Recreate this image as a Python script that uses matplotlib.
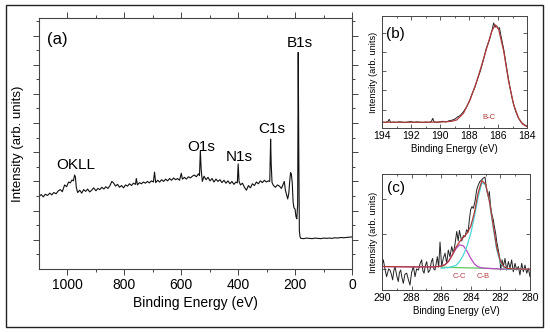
import numpy as np
import matplotlib
matplotlib.use('Agg')
import matplotlib.pyplot as plt
from matplotlib.patches import Rectangle

plt.rcParams['font.family'] = ['Liberation Sans', 'DejaVu Sans']

# (a) survey spectrum
survey_e = [1100, 1092, 1085, 1078, 1070, 1062, 1055, 1048, 1040, 1032,
            1025, 1018, 1010, 1003, 996, 990, 984, 979, 975, 972,
            969, 964, 957, 950, 943, 936, 929, 922, 915, 908,
            900, 893, 886, 879, 872, 865, 858, 851, 844, 838,
            831, 824, 817, 810, 803, 796, 789, 782, 775, 768,
            761, 758, 754, 747, 740, 733, 726, 719, 712, 705,
            698, 694, 690, 683, 676, 669, 662, 655, 648, 641,
            634, 627, 620, 613, 606, 600, 596, 589, 582, 575,
            568, 561, 554, 547, 540, 536, 533, 530, 526, 520,
            513, 506, 499, 492, 485, 478, 471, 464, 457, 450,
            443, 436, 429, 422, 415, 408, 403, 400, 397, 392,
            385, 378, 371, 364, 357, 350, 343, 336, 329, 322,
            315, 308, 301, 294, 289, 286, 284, 281, 276, 269,
            262, 255, 248, 242, 238, 234, 230, 226, 222, 219,
            216, 213, 210, 207, 204, 200, 197, 194, 191, 189,
            187, 185, 183, 180, 170, 160, 150, 140, 130, 120,
            110, 100, 90, 80, 70, 60, 50, 40, 30, 20,
            10, 0]
survey_i = [2.49, 2.55, 2.47, 2.56, 2.52, 2.60, 2.54, 2.62, 2.58, 2.68,
            2.72, 2.65, 2.88, 2.82, 2.98, 2.95, 3.05, 3.02, 3.22, 3.15,
            2.80, 2.62, 2.70, 2.60, 2.72, 2.66, 2.74, 2.64, 2.70, 2.78,
            2.68, 2.76, 2.72, 2.80, 2.74, 2.82, 2.76, 2.85, 3.00, 2.95,
            2.84, 2.90, 2.80, 2.86, 2.78, 2.88, 2.84, 2.92, 2.86, 2.94,
            2.90, 3.10, 2.88, 2.96, 2.92, 2.98, 2.94, 3.00, 2.95, 3.02,
            2.98, 3.32, 2.96, 3.04, 2.98, 3.06, 3.00, 3.08, 3.02, 3.10,
            3.04, 3.12, 3.06, 3.10, 3.04, 3.28, 3.08, 3.14, 3.08, 3.16,
            3.12, 3.18, 3.22, 3.16, 3.26, 3.20, 4.05, 3.40, 3.00, 3.18,
            3.06, 3.14, 3.02, 3.10, 2.98, 3.08, 3.00, 3.06, 2.96, 3.04,
            2.94, 3.02, 2.92, 3.00, 2.90, 2.98, 2.95, 3.60, 3.00, 2.88,
            2.94, 2.80, 2.70, 2.86, 2.78, 2.92, 2.86, 2.98, 2.92, 3.02,
            2.96, 3.04, 2.98, 3.02, 3.00, 4.45, 3.60, 2.96, 2.86, 2.80,
            2.88, 2.84, 2.76, 2.90, 3.00, 2.70, 2.55, 2.40, 2.60, 3.00,
            3.30, 3.25, 2.95, 2.30, 2.10, 2.05, 1.80, 1.72, 2.20, 7.42,
            4.00, 1.30, 1.12, 1.05, 1.04, 1.06, 1.05, 1.04, 1.06, 1.05,
            1.04, 1.06, 1.05, 1.06, 1.05, 1.07, 1.06, 1.08, 1.07, 1.08,
            1.09, 1.10]
survey_labels = ['OKLL', 'O1s', 'N1s', 'C1s', 'B1s']
survey_label_e = [972, 531, 397, 281, 183]
survey_label_i = [3.56, 4.18, 3.83, 4.79, 7.74]

# (b) B1s high resolution
b1s_e = [194.0, 193.8, 193.6, 193.5, 193.4, 193.2, 193.0, 192.8, 192.6, 192.4,
         192.2, 192.0, 191.8, 191.6, 191.4, 191.2, 191.0, 190.8, 190.6, 190.5,
         190.4, 190.2, 190.0, 189.8, 189.6, 189.4, 189.2, 189.0, 188.8, 188.6,
         188.4, 188.2, 188.0, 187.8, 187.6, 187.4, 187.2, 187.0, 186.8, 186.6,
         186.4, 186.3, 186.2, 186.1, 186.0, 185.9, 185.8, 185.6, 185.4, 185.2,
         185.0, 184.8, 184.6, 184.4, 184.2, 184.0]
b1s_i = [0.36, 0.33, 0.38, 0.50, 0.33, 0.36, 0.34, 0.37, 0.35, 0.33,
         0.36, 0.38, 0.34, 0.37, 0.35, 0.33, 0.36, 0.34, 0.38, 0.55,
         0.36, 0.34, 0.37, 0.40, 0.36, 0.42, 0.45, 0.50, 0.62, 0.70,
         0.88, 1.10, 1.40, 1.80, 2.15, 2.62, 3.05, 3.60, 4.20, 4.60,
         5.15, 5.50, 5.28, 5.35, 5.22, 5.25, 4.85, 4.10, 3.15, 2.25,
         1.50, 0.95, 0.58, 0.35, 0.22, 0.15]
b1s_fit_e = [194.0, 193.0, 192.0, 191.0, 190.0, 189.5, 189.18, 188.84, 188.38, 187.92,
             187.46, 187.11, 186.77, 186.42, 186.19, 185.96, 185.61, 185.27, 184.92, 184.58,
             184.3, 184.0]
b1s_fit_i = [0.35, 0.35, 0.35, 0.35, 0.36, 0.38, 0.40, 0.47, 0.82, 1.52,
             2.48, 3.35, 4.22, 5.09, 5.40, 5.18, 4.05, 2.48, 1.26, 0.56,
             0.25, 0.12]

# (c) C1s high resolution
c1s_e = [290.0, 289.91, 289.8, 289.69, 289.55, 289.46, 289.37, 289.28, 289.2, 289.12,
         289.0, 288.9, 288.82, 288.74, 288.65, 288.56, 288.45, 288.33, 288.22, 288.11,
         288.0, 287.88, 287.77, 287.66, 287.54, 287.43, 287.32, 287.24, 287.16, 287.07,
         286.98, 286.87, 286.76, 286.67, 286.58, 286.5, 286.42, 286.34, 286.26, 286.17,
         286.08, 285.97, 285.86, 285.74, 285.63, 285.52, 285.41, 285.29, 285.18, 285.07,
         284.95, 284.85, 284.77, 284.62, 284.5, 284.39, 284.28, 284.18, 284.1, 284.01,
         283.92, 283.83, 283.72, 283.6, 283.49, 283.38, 283.27, 283.16, 283.04, 282.93,
         282.82, 282.75, 282.66, 282.57, 282.48, 282.41, 282.32, 282.25, 282.14, 282.03,
         281.98, 281.89, 281.8, 281.69, 281.58, 281.46, 281.35, 281.24, 281.13, 281.01,
         280.9, 280.79, 280.68, 280.56, 280.45, 280.34, 280.22, 280.11, 280.0]
c1s_i = [1.10, 1.26, 1.00, 0.78, 1.00, 0.97, 0.85, 0.69, 0.95, 1.07,
         0.80, 0.64, 0.90, 0.97, 0.75, 0.59, 0.85, 0.88, 0.70, 0.54,
         0.90, 1.07, 0.78, 1.00, 0.97, 1.15, 1.26, 0.95, 0.88, 1.10,
         1.21, 0.90, 0.97, 1.20, 1.30, 1.00, 0.97, 1.15, 1.35, 1.05,
         1.77, 1.07, 1.30, 1.45, 1.16, 1.54, 1.35, 1.64, 1.45, 1.70,
         2.07, 1.80, 2.10, 1.80, 1.95, 1.92, 2.12, 2.05, 2.40, 2.69,
         2.78, 2.73, 2.92, 3.26, 3.40, 3.50, 3.54, 3.59, 3.62, 3.26,
         3.07, 3.21, 2.78, 2.54, 2.40, 2.21, 2.02, 1.78, 1.54, 1.26,
         0.97, 1.26, 1.07, 1.30, 0.97, 1.21, 1.02, 1.26, 0.92, 1.16,
         0.97, 1.07, 0.83, 1.16, 0.92, 1.11, 0.88, 1.02, 0.78]
sum_e = [290.0, 288.0, 286.5, 286.0, 285.75, 285.5, 285.25, 285.0, 284.75, 284.5,
         284.25, 284.0, 283.75, 283.5, 283.25, 283.0, 282.75, 282.5, 282.25, 282.0,
         281.75, 281.5, 281.0, 280.0]
sum_i = [1.07, 1.06, 1.06, 1.08, 1.12, 1.22, 1.40, 1.62, 1.78, 1.90,
         2.02, 2.22, 2.62, 3.18, 3.52, 3.42, 2.95, 2.28, 1.62, 1.22,
         1.06, 1.01, 1.00, 0.99]
cb_e = [286.0, 285.5, 285.0, 284.75, 284.5, 284.25, 284.0, 283.75, 283.5, 283.25,
        283.0, 282.75, 282.5, 282.25, 282.0, 281.75, 281.5, 281.0, 280.0]
cb_i = [1.02, 1.04, 1.10, 1.22, 1.40, 1.66, 2.02, 2.50, 3.05, 3.46,
        3.40, 2.95, 2.22, 1.55, 1.18, 1.04, 1.00, 0.99, 0.99]
cc_e = [290.0, 288.0, 286.5, 286.0, 285.75, 285.5, 285.25, 285.0, 284.75, 284.5,
        284.25, 284.0, 283.75, 283.5, 283.25, 283.0, 282.0, 281.0, 280.0]
cc_i = [1.07, 1.06, 1.06, 1.08, 1.12, 1.22, 1.40, 1.58, 1.69, 1.66,
        1.50, 1.30, 1.14, 1.06, 1.03, 1.02, 1.00, 0.99, 0.99]
bg_e = [286.0, 285.0, 284.0, 283.0, 282.0, 281.5]
bg_i = [1.05, 1.04, 1.03, 1.02, 1.00, 0.99]

W, H = 550, 332
fig = plt.figure(figsize=(W / 100, H / 100), dpi=100)
fig.patches.append(Rectangle((6 / W, 5 / H), 537 / W, 322 / H, transform=fig.transFigure,
                             fill=False, lw=1.0, ec='#222222'))

red = '#b03a3a'
spine_c = '#444444'

# ---- (a)
ax1 = fig.add_axes([39 / W, (H - 269) / H, 313 / W, 251 / H])
ax1.plot(survey_e, survey_i, color='#111111', lw=0.8)
ax1.set_xlim(1100, 0)
ax1.set_ylim(0, 8.6)
ax1.set_xticks([1000, 800, 600, 400, 200, 0])
ax1.set_xticks(np.arange(100, 1100, 200), minor=True)
ax1.set_yticks(np.arange(1, 9))
ax1.set_yticks(np.arange(0.5, 8.6, 1.0), minor=True)
ax1.tick_params(which='both', direction='out', top=True, right=True,
                labelleft=False, labelsize=10, color=spine_c, width=0.7, pad=2.5)
ax1.tick_params(which='major', length=4)
ax1.tick_params(which='minor', length=2)
ax1.set_xlabel('Binding Energy (eV)', fontsize=10, labelpad=3)
ax1.set_ylabel('Intensity (arb. units)', fontsize=9.5, labelpad=7)
for s in ax1.spines.values():
    s.set_color(spine_c)
    s.set_linewidth(0.8)
ax1.text(1072, 7.86, '(a)', fontsize=12, ha='left', va='center')
for lab, e, v in zip(survey_labels, survey_label_e, survey_label_i):
    ax1.text(e, v, lab, fontsize=11, ha='center', va='center')

# ---- (b)
ax2 = fig.add_axes([382 / W, (H - 128) / H, 145 / W, 112 / H])
ax2.plot(b1s_e, b1s_i, color='#222222', lw=0.7)
ax2.plot(b1s_fit_e, b1s_fit_i, color=red, lw=0.9)
ax2.set_xlim(194, 184)
ax2.set_ylim(0.05, 5.86)
ax2.set_xticks(np.arange(194, 183, -2))
ax2.set_xticks(np.arange(193, 184, -2), minor=True)
ax2.set_yticks(np.arange(1, 6))
ax2.text(193.7, 4.92, '(b)', fontsize=11, ha='left', va='center')
ax2.text(186.6, 0.59, 'B-C', fontsize=5.5, color=red, ha='center', va='center')

# ---- (c)
ax3 = fig.add_axes([382 / W, (H - 290) / H, 148 / W, 116 / H])
ax3.plot(c1s_e, c1s_i, color='#222222', lw=0.7)
ax3.plot(bg_e, bg_i, color='#5cc85c', lw=0.9)
ax3.plot(cc_e, cc_i, color='#b84cc4', lw=0.9)
ax3.plot(cb_e, cb_i, color='#4fd6d6', lw=0.9)
ax3.plot(sum_e, sum_i, color=red, lw=0.9)
ax3.set_xlim(290, 280)
ax3.set_ylim(0.4, 3.71)
ax3.set_xticks(np.arange(290, 279, -2))
ax3.set_xticks(np.arange(289, 280, -2), minor=True)
ax3.set_yticks([1, 2, 3])
ax3.text(289.66, 3.31, '(c)', fontsize=11, ha='left', va='center')
ax3.text(284.8, 0.78, 'C-C', fontsize=5.5, color=red, ha='center', va='center')
ax3.text(283.14, 0.78, 'C-B', fontsize=5.5, color=red, ha='center', va='center')

for ax in (ax2, ax3):
    ax.tick_params(which='both', direction='in', top=True, right=True,
                   labelleft=False, labelsize=7.5, color=spine_c, width=0.6, pad=2.5)
    ax.tick_params(which='major', length=3)
    ax.tick_params(which='minor', length=1.5)
    ax.set_xlabel('Binding Energy (eV)', fontsize=7, labelpad=1.5)
    ax.set_ylabel('Intensity (arb. units)', fontsize=6.6, labelpad=3)
    for s in ax.spines.values():
        s.set_color(spine_c)
        s.set_linewidth(0.7)

fig.savefig('out.png', dpi=100)
